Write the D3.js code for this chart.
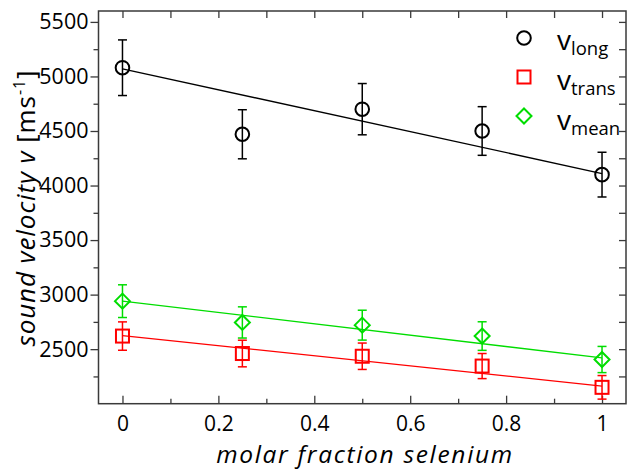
<!DOCTYPE html>
<html><head><meta charset="utf-8">
<script src="https://cdn.jsdelivr.net/npm/d3@7"></script>
<style>
body{margin:0;background:#fff;}
svg{display:block;}
text{font-family:"Open Sans",sans-serif;fill:#000;}
</style></head>
<body>
<svg id="c" width="627" height="470"></svg>
<script>
const xValues = [0, 0.25, 0.5, 0.75, 1];
const vLong = [5080, 4470, 4700, 4500, 4100];
const vLongErr = [255, 225, 235, 223, 205];
const vTrans = [2620, 2460, 2435, 2345, 2150];
const vTransErr = [130, 122, 121, 115, 108];
const vMean = [2940, 2745, 2720, 2620, 2405];
const vMeanErr = [150, 143, 137, 131, 120];
const fitX = [0, 1];
const fitLong = [5070, 4110];
const fitTrans = [2625, 2162];
const fitMean = [2940, 2420];
const xTicks = [0, 0.2, 0.4, 0.6, 0.8, 1];
const xTickLabels = ["0", "0.2", "0.4", "0.6", "0.8", "1"];
const xMinorTicks = [0.1, 0.3, 0.5, 0.7, 0.9];
const yTicks = [2500, 3000, 3500, 4000, 4500, 5000, 5500];
const yMinorTicks = [2250, 2750, 3250, 3750, 4250, 4750, 5250];

const svg = d3.select("#c");
const L = 98.5, R = 626, T = 11, B = 403.7;
const x = d3.scaleLinear().domain([-0.05, 1.05]).range([L, R]);
const y = d3.scaleLinear().domain([2000, 5600]).range([B, T]);
const frameColor = "#3a3a3a";

// Left axis (outward ticks)
const gl = svg.append("g").attr("transform", `translate(${L},0)`);
gl.call(d3.axisLeft(y).tickValues(yTicks).tickSize(8).tickPadding(2).tickFormat(d3.format("d")))
  .call(g => g.select(".domain").remove());
gl.selectAll(".tick line").attr("stroke", frameColor).attr("stroke-width", 1.3);
gl.selectAll(".tick text").attr("font-size", 21.5).attr("font-family", "Open Sans").attr("fill", "#000");
const glm = svg.append("g").attr("transform", `translate(${L},0)`);
glm.call(d3.axisLeft(y).tickValues(yMinorTicks).tickSize(5).tickFormat(""))
  .call(g => g.select(".domain").remove());
glm.selectAll(".tick line").attr("stroke", frameColor).attr("stroke-width", 1.3);

// Bottom axis (inward ticks)
const gb = svg.append("g").attr("transform", `translate(0,${B})`);
gb.call(d3.axisTop(x).tickValues(xTicks).tickSize(8).tickFormat(""))
  .call(g => g.select(".domain").remove());
gb.selectAll(".tick line").attr("stroke", frameColor).attr("stroke-width", 1.3);
const gbm = svg.append("g").attr("transform", `translate(0,${B})`);
gbm.call(d3.axisTop(x).tickValues(xMinorTicks).tickSize(5).tickFormat(""))
  .call(g => g.select(".domain").remove());
gbm.selectAll(".tick line").attr("stroke", frameColor).attr("stroke-width", 1.3);
const gbl = svg.append("g").attr("transform", `translate(0,${B})`);
gbl.call(d3.axisBottom(x).tickValues(xTicks).tickSize(0).tickPadding(12).tickFormat((d, i) => xTickLabels[i]))
  .call(g => g.select(".domain").remove());
gbl.selectAll(".tick text").attr("font-size", 21).attr("fill", "#000");

// Top axis (inward ticks)
const gt = svg.append("g").attr("transform", `translate(0,${T})`);
gt.call(d3.axisBottom(x).tickValues(xTicks.concat(xMinorTicks)).tickSize(7).tickFormat(""))
  .call(g => g.select(".domain").remove());
gt.selectAll(".tick line").attr("stroke", frameColor).attr("stroke-width", 1.3);

// Right axis (inward ticks)
const gr = svg.append("g").attr("transform", `translate(${R},0)`);
gr.call(d3.axisLeft(y).tickValues(yTicks.concat(yMinorTicks)).tickSize(7).tickFormat(""))
  .call(g => g.select(".domain").remove());
gr.selectAll(".tick line").attr("stroke", frameColor).attr("stroke-width", 1.3);

// Frame
svg.append("rect").attr("x", L).attr("y", T).attr("width", R - L).attr("height", B - T)
  .attr("fill", "none").attr("stroke", frameColor).attr("stroke-width", 1.5);

const series = [
  {vals: vLong, err: vLongErr, fit: fitLong, color: "#000000", shape: "circle"},
  {vals: vTrans, err: vTransErr, fit: fitTrans, color: "#ff0000", shape: "square"},
  {vals: vMean, err: vMeanErr, fit: fitMean, color: "#00dd00", shape: "diamond"}
];

function drawMarker(g, shape, cx, cy, color) {
  if (shape === "circle") {
    g.append("circle").attr("cx", cx).attr("cy", cy).attr("r", 6.8)
      .attr("fill", "none").attr("stroke", color).attr("stroke-width", 2);
  } else if (shape === "square") {
    g.append("rect").attr("x", cx - 6.5).attr("y", cy - 6.5).attr("width", 13).attr("height", 13)
      .attr("fill", "none").attr("stroke", color).attr("stroke-width", 2);
  } else {
    const s = 7.5;
    g.append("path").attr("d", `M${cx},${cy - s}L${cx + s},${cy}L${cx},${cy + s}L${cx - s},${cy}Z`)
      .attr("fill", "none").attr("stroke", color).attr("stroke-width", 2);
  }
}

const line = d3.line().x(d => x(d[0])).y(d => y(d[1]));
series.forEach(s => {
  const g = svg.append("g");
  g.append("path").attr("d", line(fitX.map((xv, i) => [xv, s.fit[i]])))
    .attr("fill", "none").attr("stroke", s.color).attr("stroke-width", 1.3);
  xValues.forEach((xv, i) => {
    const cx = x(xv), y1 = y(s.vals[i] + s.err[i]), y2 = y(s.vals[i] - s.err[i]);
    g.append("line").attr("x1", cx).attr("x2", cx).attr("y1", y1).attr("y2", y2)
      .attr("stroke", s.color).attr("stroke-width", 1.5);
    [y1, y2].forEach(yy => g.append("line").attr("x1", cx - 4.5).attr("x2", cx + 4.5)
      .attr("y1", yy).attr("y2", yy).attr("stroke", s.color).attr("stroke-width", 1.5));
  });
  xValues.forEach((xv, i) => drawMarker(g, s.shape, x(xv), y(s.vals[i]), s.color));
});

// Legend
const legendItems = [
  {shape: "circle", color: "#000000", sub: "long"},
  {shape: "square", color: "#ff0000", sub: "trans"},
  {shape: "diamond", color: "#00dd00", sub: "mean"}
];
legendItems.forEach((it, i) => {
  const my = 38 + i * 39;
  drawMarker(svg, it.shape, 524, my, it.color);
  const t = svg.append("text").attr("x", 557).attr("y", 50 + i * 40).attr("font-size", 28);
  t.append("tspan").text("v");
  t.append("tspan").attr("dy", 5).attr("font-size", 18.5).text(it.sub);
});

// fit a text's letter-spacing to a target width
function fitWidth(sel, target) {
  const node = sel.node();
  const n = node.getNumberOfChars();
  const w0 = node.getBBox().width;
  const ls = Math.max(0, (target - w0) / (n - 1));
  sel.attr("letter-spacing", ls);
}

// Axis titles
const xt = svg.append("text").attr("x", 365).attr("y", 463).attr("text-anchor", "middle")
  .attr("font-size", 24.5).attr("font-style", "italic").text("molar fraction selenium");
fitWidth(xt, 296);

const yt = svg.append("text").attr("transform", "translate(35,208) rotate(-90)")
  .attr("text-anchor", "middle").attr("font-size", 26);
yt.append("tspan").attr("font-style", "italic").text("sound velocity v");
yt.append("tspan").text(" [ms");
yt.append("tspan").attr("font-size", 16).attr("dy", -10).text("-1");
yt.append("tspan").attr("dy", 10).text("]");
fitWidth(yt, 276);
</script>
</body></html>
